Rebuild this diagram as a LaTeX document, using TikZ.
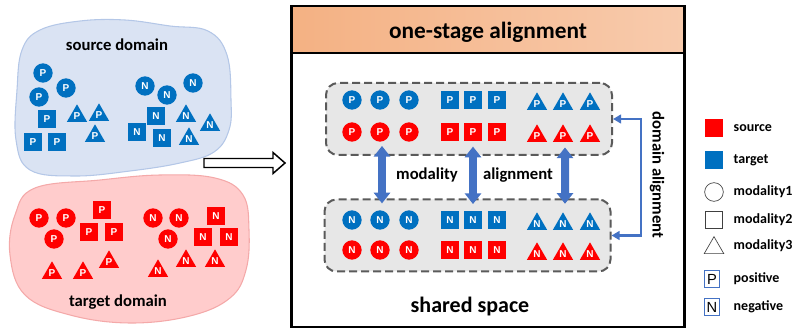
\documentclass[tikz,border=0pt]{standalone}
\usepackage{fontspec}
\setmainfont{Carlito}
\newfontfamily\symfont{Liberation Sans}
\usetikzlibrary{shapes.geometric,arrows.meta}
\definecolor{symblue}{HTML}{0070C0}
\definecolor{symred}{HTML}{FF0000}
\definecolor{arrowblue}{HTML}{4472C4}
\definecolor{srcfill}{HTML}{DAE3F3}
\definecolor{srcline}{HTML}{B4C7E7}
\definecolor{tgtfill}{HTML}{FFCCCC}
\definecolor{tgtline}{HTML}{F4A9A9}
\definecolor{groupfill}{HTML}{E7E7E7}
\definecolor{groupline}{HTML}{5A5A5A}
\definecolor{headleft}{HTML}{F4B183}
\definecolor{headright}{HTML}{F8CBAD}
\definecolor{legline}{HTML}{404040}
\tikzset{
  sym/.style={inner sep=0pt, text=white, font=\symfont\bfseries\fontsize{7.5}{7.5}\selectfont},
  circ/.style={sym, circle, minimum size=14.5pt},
  sqr/.style={sym, rectangle, minimum size=13.5pt},
  tri/.style={sym, regular polygon, regular polygon sides=3, minimum size=17.5pt},
  bl/.style={fill=symblue},
  rd/.style={fill=symred},
  title/.style={font=\bfseries\fontsize{12.5}{14}\selectfont},
  bigtitle/.style={font=\bfseries\fontsize{16.5}{18}\selectfont},
  legtext/.style={anchor=west, font=\bfseries\fontsize{10.5}{12}\selectfont},
  group/.style={draw=groupline, fill=groupfill, line width=1.5pt, dash pattern=on 6pt off 3pt,
    rounded corners=9pt, minimum width=214.5pt, minimum height=54pt},
  bothways/.style={draw=arrowblue, line width=6pt,
    {Triangle[width=12pt,length=8pt]}-{Triangle[width=12pt,length=8pt]}},
  domarrow/.style={draw=arrowblue, line width=1.8pt,
    {Triangle[width=6.5pt,length=6pt]}-{Triangle[width=6.5pt,length=6pt]}},
  pnbox/.style={draw=arrowblue, line width=0.6pt, inner sep=1.5pt, minimum width=11pt,
    minimum height=12.5pt, font=\symfont\fontsize{11}{11}\selectfont}
}
\begin{document}
\begin{tikzpicture}[x=0.75pt, y=-0.75pt]
\useasboundingbox (0,0) rectangle (794,328);

% ---------- source domain ----------
\draw[fill=srcfill, draw=srcline, line width=0.8pt] plot[smooth cycle, tension=0.65] coordinates {
  (40,30) (80,21) (125,20) (170,26) (208,31) (227,55) (231,100) (229,130)
  (214,152) (180,163) (130,171) (75,176) (30,170) (16,140) (17,90) (22,50)};
\node[title] (srctitle) at (117,45) {source domain};
\node[circ,bl] (s1) at (43,73) {P};
\node[circ,bl] (s2) at (66,88) {P};
\node[circ,bl] (s3) at (39,97) {P};
\node[sqr,bl] (s4) at (47,119) {P};
\node[sqr,bl] (s5) at (33,142) {P};
\node[sqr,bl] (s6) at (57,142) {P};
\node[tri,bl] (s7) at (77,116) {P};
\node[tri,bl] (s8) at (99,115) {P};
\node[tri,bl] (s9) at (95,136) {P};
\node[circ,bl] (s10) at (145,86) {N};
\node[circ,bl] (s11) at (167,95) {N};
\node[circ,bl] (s12) at (193,83) {N};
\node[sqr,bl] (s13) at (156,116) {N};
\node[sqr,bl] (s14) at (137,132) {N};
\node[sqr,bl] (s15) at (162,138) {N};
\node[tri,bl] (s16) at (186,116) {N};
\node[tri,bl] (s17) at (210,125) {N};
\node[tri,bl] (s18) at (189,139) {N};

% ---------- target domain ----------
\draw[fill=tgtfill, draw=tgtline, line width=0.8pt] plot[smooth cycle, tension=0.65] coordinates {
  (35,188) (100,180) (160,175) (215,178) (243,195) (249,230) (246,270) (230,298)
  (190,316) (130,323) (70,315) (25,295) (10,255) (15,215)};
\node[title] (tgttitle) at (118,302) {target domain};
\node[circ,rd] (t1) at (39,218) {P};
\node[circ,rd] (t2) at (66,218) {P};
\node[circ,rd] (t3) at (54,239) {P};
\node[sqr,rd] (t4) at (102,210) {P};
\node[sqr,rd] (t5) at (89,232) {P};
\node[sqr,rd] (t6) at (114,232) {P};
\node[tri,rd] (t7) at (52,273) {P};
\node[tri,rd] (t8) at (83,273) {P};
\node[tri,rd] (t9) at (109,262) {P};
\node[circ,rd] (t10) at (153,218) {N};
\node[circ,rd] (t11) at (179,218) {N};
\node[circ,rd] (t12) at (168,239) {N};
\node[sqr,rd] (t13) at (216,216) {N};
\node[sqr,rd] (t14) at (203,237) {N};
\node[sqr,rd] (t15) at (229,237) {N};
\node[tri,rd] (t16) at (158,271) {N};
\node[tri,rd] (t17) at (186,261) {N};
\node[tri,rd] (t18) at (215,261) {N};

% ---------- hollow arrow into the frame ----------
\draw[line width=1.1pt, fill=white, line join=miter]
  (204,158.5) -- (273,158.5) -- (273,152.5) -- (285,163) -- (273,173.5) -- (273,167.5) -- (204,167.5) -- cycle;

% ---------- frame with header ----------
\fill[left color=headleft, right color=headright] (291,6) rectangle (685,53);
\draw[line width=1.2pt] (291,53) -- (685,53);
\node[draw, line width=1.6pt, minimum width=294.8pt, minimum height=240.5pt, inner sep=0pt] (frame) at (488,166.5) {};
\node[bigtitle, font=\bfseries\fontsize{17.5}{19}\selectfont] (head) at (488,32) {one-stage alignment};
\node[bigtitle] (shared) at (470,307) {shared space};

% ---------- groups in the shared space ----------
\node[group] (topbox) at (469,119) {};
\node[group] (botbox) at (467.5,235.5) {};

\foreach \x [count=\i] in {352,380,409} {
  \node[circ,bl] (tc1\i) at (\x,100) {P};
  \node[circ,rd] (tc2\i) at (\x,132) {P};
  \node[circ,bl] (bc1\i) at (\x,220) {N};
  \node[circ,rd] (bc2\i) at (\x,250) {N};
}
\foreach \x [count=\i] in {450,473,497} {
  \node[sqr,bl] (ts1\i) at (\x,100) {P};
  \node[sqr,rd] (ts2\i) at (\x,132) {P};
  \node[sqr,bl] (bs1\i) at (\x,220) {N};
  \node[sqr,rd] (bs2\i) at (\x,250) {N};
}
\foreach \x [count=\i] in {537,563,590} {
  \node[tri,bl] (tt1\i) at (\x,104) {P};
  \node[tri,rd] (tt2\i) at (\x,136) {P};
  \node[tri,bl] (bt1\i) at (\x,224) {N};
  \node[tri,rd] (bt2\i) at (\x,254) {N};
}

% modality alignment arrows
\draw[bothways] ([xshift=1.5pt,yshift=-3pt]tc22.south) -- ([xshift=1.5pt,yshift=5pt]bc12.north);
\draw[bothways] ([yshift=-4pt]ts22.south) -- ([yshift=5pt]bs12.north);
\draw[bothways] ([xshift=1.5pt,yshift=-4pt]tt22.south) -- ([xshift=1.5pt,yshift=6pt]bt12.north);
\node[title] (modlabel) at (427,175) {modality};
\node[title] (alignlabel) at (518,175) {alignment};

% domain alignment connector
\draw[domarrow] (topbox.east) -- ++(28,0) |- (botbox.east);
\node[title, rotate=-90] (domlabel) at (657,175) {domain alignment};

% ---------- legend ----------
\node[fill=symred, minimum size=13.5pt, inner sep=0pt] (lsrc) at (714,128) {};
\node[legtext] (lsrctext) at (729,128) {source};
\node[fill=symblue, minimum size=13.5pt, inner sep=0pt] (ltgt) at (714,160) {};
\node[legtext] (ltgttext) at (729,160) {target};
\node[draw=legline, circle, line width=0.5pt, minimum size=14pt, inner sep=0pt] (lm1) at (714,192) {};
\node[legtext] (lm1text) at (729,192) {modality1};
\node[draw=legline, rectangle, line width=0.5pt, minimum size=13pt, inner sep=0pt] (lm2) at (714,220) {};
\node[legtext] (lm2text) at (729,220) {modality2};
\node[draw=legline, regular polygon, regular polygon sides=3, line width=0.5pt, minimum size=17pt, inner sep=0pt] (lm3) at (714,248) {};
\node[legtext] (lm3text) at (729,246) {modality3};
\node[pnbox] (lpos) at (712,279) {P};
\node[legtext] (lpostext) at (729,279) {positive};
\node[pnbox] (lneg) at (712,307) {N};
\node[legtext] (lnegtext) at (729,307) {negative};
\end{tikzpicture}
\end{document}
